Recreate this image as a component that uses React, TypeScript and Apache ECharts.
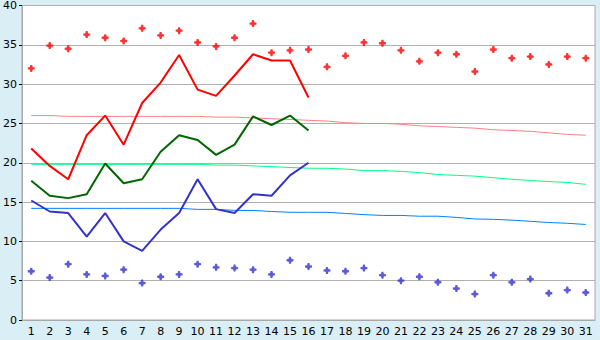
import React, { useEffect, useRef } from "react";
import * as echarts from "echarts";

const days = Array.from({ length: 31 }, (_, i) => String(i + 1));

const maxPoints = [32.0, 34.9, 34.5, 36.3, 35.9, 35.5, 37.1, 36.2, 36.8, 35.3, 34.8, 35.9, 37.7, 34.0, 34.3, 34.4, 32.2, 33.6, 35.3, 35.2, 34.3, 32.9, 34.0, 33.8, 31.6, 34.4, 33.3, 33.5, 32.5, 33.5, 33.3];
const minPoints = [6.2, 5.4, 7.1, 5.8, 5.6, 6.4, 4.7, 5.5, 5.8, 7.1, 6.7, 6.6, 6.4, 5.8, 7.6, 6.8, 6.3, 6.2, 6.6, 5.7, 5.0, 5.5, 4.8, 4.0, 3.3, 5.7, 4.8, 5.2, 3.4, 3.8, 3.5];

const maxLine = [21.8, 19.6, 17.9, 23.5, 26.0, 22.3, 27.6, 30.2, 33.7, 29.3, 28.5, 31.1, 33.8, 33.0, 33.0, 28.3];
const meanLine = [17.7, 15.8, 15.5, 16.0, 19.9, 17.4, 17.9, 21.4, 23.5, 22.9, 21.0, 22.3, 25.9, 24.8, 26.0, 24.1];
const minLine = [15.2, 13.8, 13.6, 10.6, 13.6, 10.0, 8.8, 11.5, 13.6, 17.9, 14.1, 13.6, 16.0, 15.8, 18.4, 20.0];

const maxTrend = [26.0, 26.0, 25.9, 25.9, 25.9, 25.9, 25.9, 25.9, 25.9, 25.9, 25.8, 25.8, 25.7, 25.6, 25.5, 25.4, 25.3, 25.1, 25.0, 25.0, 24.9, 24.7, 24.6, 24.5, 24.4, 24.2, 24.1, 24.0, 23.8, 23.6, 23.5];
const meanTrend = [19.8, 19.8, 19.8, 19.8, 19.8, 19.8, 19.8, 19.8, 19.8, 19.8, 19.7, 19.7, 19.6, 19.5, 19.4, 19.3, 19.3, 19.2, 19.0, 19.0, 18.9, 18.75, 18.5, 18.4, 18.3, 18.1, 17.9, 17.75, 17.6, 17.5, 17.25];
const minTrend = [14.2, 14.2, 14.2, 14.2, 14.2, 14.2, 14.2, 14.2, 14.2, 14.07, 14.07, 13.94, 13.94, 13.8, 13.7, 13.7, 13.7, 13.55, 13.4, 13.3, 13.3, 13.2, 13.2, 13.05, 12.85, 12.8, 12.7, 12.55, 12.4, 12.3, 12.15];

const yTicks = { min: 0, max: 40, interval: 5 };

const star =
  "path://M-0.8,-3 L0.8,-3 L1.2,-1.2 L3,-0.8 L3,0.8 L1.2,1.2 L0.8,3 L-0.8,3 L-1.2,1.2 L-3,0.8 L-3,-0.8 L-1.2,-1.2 Z";

export default function App() {
  const ref = useRef<HTMLDivElement>(null);
  useEffect(() => {
    if (!ref.current) return;
    const chart = echarts.init(ref.current, null, { renderer: "svg" });
    const trend = (name: string, data: number[], color: string) => ({
      name,
      type: "line",
      data,
      symbol: "none",
      lineStyle: { color, width: 1 },
      z: 1,
    });
    const line = (name: string, data: number[], color: string) => ({
      name,
      type: "line",
      data,
      symbol: "none",
      lineStyle: { color, width: 2 },
      z: 3,
    });
    const pts = (name: string, data: number[], color: string) => ({
      name,
      type: "scatter",
      data,
      symbol: star,
      symbolSize: 7,
      itemStyle: { color },
      z: 4,
    });
    chart.setOption({
      animation: false,
      backgroundColor: "#d9eef5",
      grid: {
        left: 20,
        right: 5,
        top: 5,
        bottom: 20,
        show: true,
        backgroundColor: "#ffffff",
        borderColor: "#a8a8a8",
        borderWidth: 1,
      },
      xAxis: {
        type: "category",
        data: days,
        boundaryGap: true,
        axisLine: { lineStyle: { color: "#a8a8a8", width: 1 } },
        axisTick: { alignWithLabel: true, length: 4, lineStyle: { color: "#000" } },
        axisLabel: { color: "#000", fontFamily: "DejaVu Sans", fontSize: 11, margin: 6, interval: 0 },
        splitLine: { show: false },
      },
      yAxis: {
        type: "value",
        min: yTicks.min,
        max: yTicks.max,
        interval: yTicks.interval,
        axisLine: { show: true, lineStyle: { color: "#a8a8a8", width: 1 } },
        axisTick: { show: true, length: 3, lineStyle: { color: "#000" } },
        axisLabel: { color: "#000", fontFamily: "DejaVu Sans", fontSize: 11, margin: 5 },
        splitLine: { show: true, lineStyle: { color: "#b0b0b0", width: 1 } },
      },
      series: [
        trend("maxTrend", maxTrend, "#ff8080"),
        trend("meanTrend", meanTrend, "#00ff80"),
        trend("minTrend", minTrend, "#0080ff"),
        line("max", maxLine, "#ff0000"),
        line("mean", meanLine, "#006600"),
        line("min", minLine, "#3333cc"),
        pts("maxPts", maxPoints, "#ff0000"),
        pts("minPts", minPoints, "#3333cc"),
      ],
    });
    return () => chart.dispose();
  }, []);
  return (
    <div
      ref={ref}
      style={{ position: "fixed", left: 0, top: 0, width: 600, height: 340 }}
    />
  );
}
